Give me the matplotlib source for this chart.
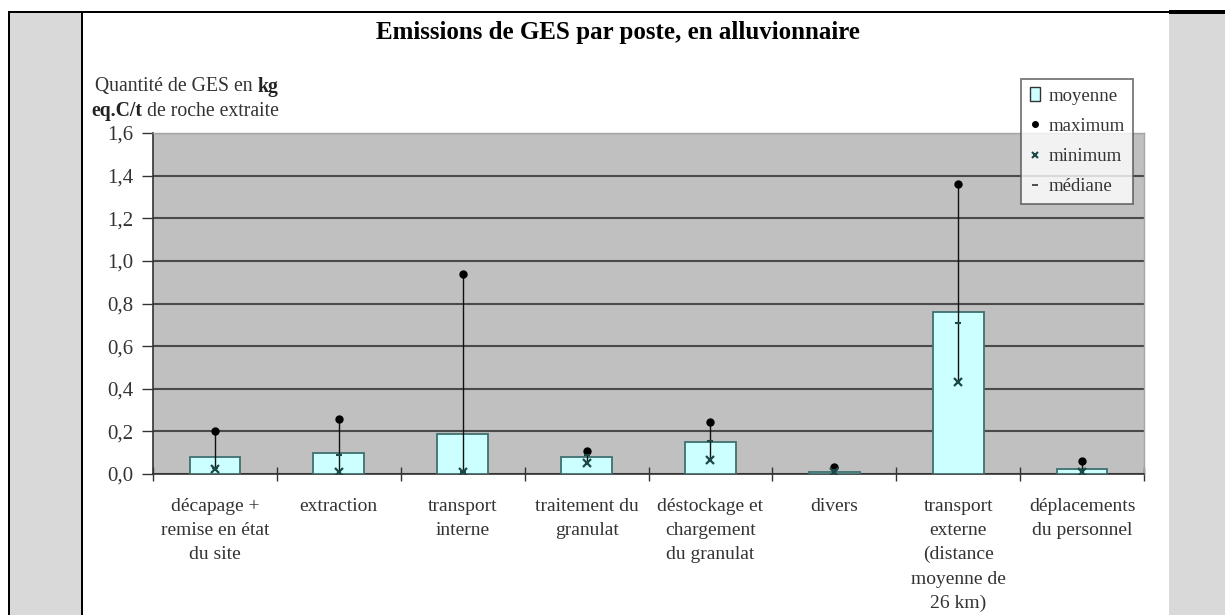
import matplotlib.pyplot as plt
from matplotlib.patches import Rectangle, Patch
from matplotlib.lines import Line2D
import numpy as np

plt.rcParams['font.family'] = ['Liberation Serif', 'DejaVu Serif']

# données (kg eq.C / t de roche extraite)
postes = ['décapage +\nremise en état\ndu site', 'extraction', 'transport\ninterne',
          'traitement du\ngranulat', 'déstockage et\nchargement\ndu granulat', 'divers',
          'transport\nexterne\n(distance\nmoyenne de\n26 km)', 'déplacements\ndu personnel']
moyenne = [0.08, 0.10, 0.19, 0.08, 0.15, 0.01, 0.76, 0.025]
maximum = [0.20, 0.26, 0.94, 0.11, 0.245, 0.035, 1.36, 0.06]
minimum = [0.025, 0.01, 0.01, 0.05, 0.065, 0.01, 0.43, 0.01]
mediane = [0.03, 0.09, 0.01, 0.09, 0.155, 0.02, 0.71, 0.02]
yticks = [0.0, 0.2, 0.4, 0.6, 0.8, 1.0, 1.2, 1.4, 1.6]

W, H = 1225, 615
fig = plt.figure(figsize=(W / 100, H / 100), dpi=100)


def px(x0, y0, w, h, **kw):
    # rectangle en pixels (origine en haut à gauche)
    fig.add_artist(Rectangle((x0 / W, 1 - (y0 + h) / H), w / W, h / H,
                             transform=fig.transFigure, **kw))


# cadre de la page
px(9, 12, 73, 603, facecolor='#d9d9d9', edgecolor='none')
px(1169, 12, 56, 603, facecolor='#d9d9d9', edgecolor='none')
px(7.5, 12, 2, 603, facecolor='black', edgecolor='none')
px(81, 12, 2, 603, facecolor='black', edgecolor='none')
px(7.5, 11, 1218, 1.6, facecolor='black', edgecolor='none')
px(1169, 10.5, 56, 3, facecolor='black', edgecolor='none')

ax = fig.add_axes([153 / W, 1 - 474 / H, 991 / W, 341 / H])
ax.set_facecolor('#c0c0c0')

x = np.arange(len(postes))
ax.bar(x, moyenne, width=0.41, color='#ccffff', edgecolor='#3f7070', linewidth=1.3, zorder=3)
ax.vlines(x, minimum, maximum, color='#111111', linewidth=1, zorder=4)
ax.plot(x, maximum, 'o', color='black', markersize=5, zorder=5)
ax.plot(x, minimum, 'x', color='#1d4848', markersize=6, markeredgewidth=1.6, zorder=5)
ax.plot(x, mediane, '_', color='#1d4848', markersize=5, markeredgewidth=1.5, zorder=5)

ax.set_xlim(-0.5, len(postes) - 0.5)
ax.set_ylim(0, 1.6)
ax.set_yticks(yticks)
ax.set_yticklabels([f'{v:.1f}'.replace('.', ',') for v in yticks], fontsize=15, color='#333333')
ax.yaxis.grid(True, color='#4a4a4a', linewidth=1.5, zorder=1)
ax.set_axisbelow(True)
ax.tick_params(axis='y', length=8, width=1, color='#333333', pad=6)

ax.set_xticks(x)
ax.set_xticklabels(postes, fontsize=14, color='#333333', linespacing=1.55)
ax.tick_params(axis='x', which='major', length=0, pad=17)
ax.set_xticks(np.arange(-0.5, len(postes)), minor=True)
ax.tick_params(axis='x', which='minor', length=10, direction='inout', width=1, color='#333333')

for s in ['left', 'bottom']:
    ax.spines[s].set_color('#333333')
    ax.spines[s].set_linewidth(1.2)
for s in ['top', 'right']:
    ax.spines[s].set_color('#a5a5a5')
    ax.spines[s].set_linewidth(1)

fig.text(618 / W, 1 - 32 / H, 'Emissions de GES par poste, en alluvionnaire',
         ha='center', va='center', fontsize=18, fontweight='bold')

# libellé de l'axe y (en partie en gras)
t1 = fig.text(95 / W, 1 - 87 / H, 'Quantité de GES en ', ha='left', va='center',
              fontsize=14.2, color='#333333')
ax.annotate('kg', xy=(1, 0.5), xycoords=t1, ha='left', va='center',
            fontsize=14.2, fontweight='bold', color='#222222')
t2 = fig.text(91 / W, 1 - 111 / H, 'eq.C/t', ha='left', va='center',
              fontsize=14.2, fontweight='bold', color='#222222')
ax.annotate(' de roche extraite', xy=(1, 0.5), xycoords=t2, ha='left', va='center',
            fontsize=14.2, color='#333333')

handles = [
    Patch(facecolor='#ccffff', edgecolor='#333333', linewidth=1),
    Line2D([], [], marker='o', color='black', linestyle='none', markersize=4),
    Line2D([], [], marker='x', color='#1d4848', linestyle='none', markersize=4, markeredgewidth=1.5),
    Line2D([], [], marker='_', color='#333333', linestyle='none', markersize=4, markeredgewidth=1.2),
]
leg = fig.legend(handles, ['moyenne', 'maximum', 'minimum', 'médiane'],
                 loc='upper right', bbox_to_anchor=(1133 / W, 1 - 79 / H),
                 fontsize=13.5, frameon=True, fancybox=False, handlelength=0.55,
                 handletextpad=0.45, labelspacing=0.7, borderpad=0.45, borderaxespad=0)
leg.get_frame().set_edgecolor('#555555')
leg.get_frame().set_linewidth(1.3)
for t in leg.get_texts():
    t.set_color('#333333')

fig.savefig('out.png', dpi=100, facecolor='white')
